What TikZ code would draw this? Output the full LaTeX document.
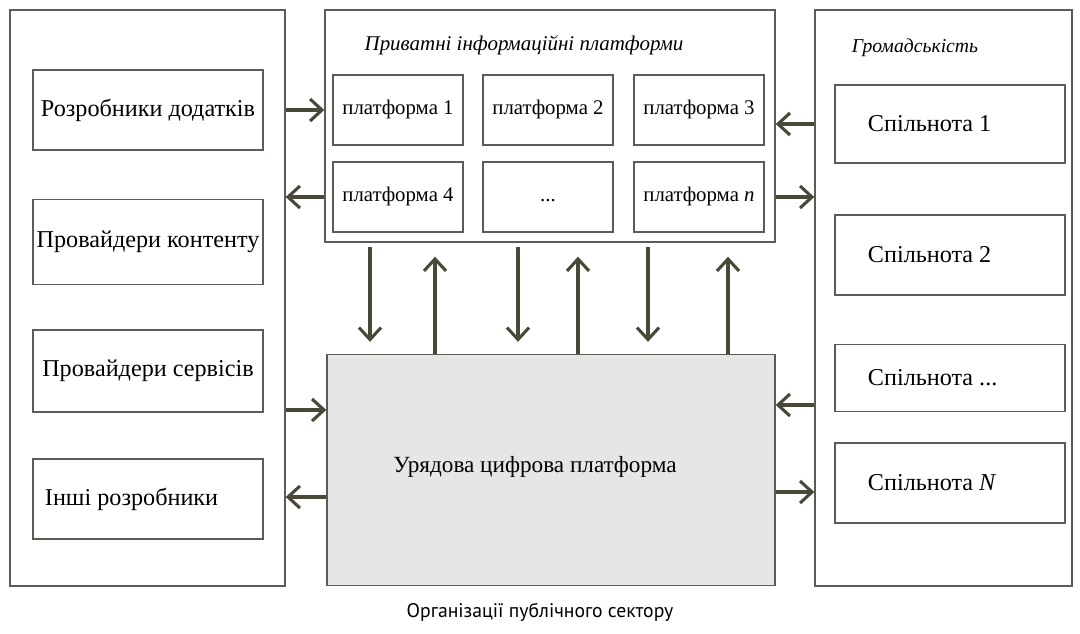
\documentclass[tikz,border=0pt]{standalone}
\usepackage{fontspec}
\setmainfont{Liberation Serif}
\newfontfamily\capfont{PT Sans}
\usetikzlibrary{arrows.meta}
\definecolor{boxline}{HTML}{5C5C54}
\definecolor{arrowcol}{HTML}{4A4838}
\definecolor{govfill}{HTML}{E6E6E6}
\begin{document}
\begin{tikzpicture}[x=0.025cm,y=-0.025cm,
  frame/.style={draw=boxline, line width=0.9pt, minimum width=#1},
  outer/.style={frame=#1, minimum height=14.4cm},
  actor/.style={frame=5.75cm, inner xsep=1pt, font=\fontsize{17.2}{20}\selectfont},
  group/.style={actor, text width=4.1cm, inner xsep=0.825cm, align=flush left},
  plat/.style={frame=3.25cm, minimum height=1.75cm, inner sep=2pt, text height=1.6ex, text depth=0.3ex, font=\fontsize{14.8}{17}\selectfont},
  arr/.style={draw=arrowcol, line width=2.2pt, -{Straight Barb[length=3mm,width=5.5mm,line width=2.2pt]}}]
\useasboundingbox (0,0) rectangle (1080,633);
% outer frames
\node[outer=6.875cm] (lft) at (147.5,298) {};
\node[outer=6.425cm] (rgt) at (943.5,298) {};
\node[frame=11.25cm, minimum height=5.8cm] (top) at (550,126) {};
\node[frame=11.2cm, minimum height=5.775cm, fill=govfill] (gov) at (551,470) {};
% left column
\node[actor, minimum height=2cm] (l1) at (148,110) {Розробники додатків};
\node[actor, minimum height=2.125cm] (l2) at (148,242) {Провайдери контенту};
\node[actor, minimum height=2.05cm] (l3) at (148,371) {Провайдери сервісів};
\node[actor, minimum height=2cm, text width=5.15cm, inner xsep=0.3cm, align=flush left] (l4) at (148,499) {Інші розробники};
% private platforms
\node[font=\itshape\fontsize{14.9}{17}\selectfont] (ttl) at (524,45) {Приватні інформаційні платформи};
\node[plat] (p1) at (398,110) {платформа 1};
\node[plat] (p2) at (548,110) {платформа 2};
\node[plat] (p3) at (699,110) {платформа 3};
\node[plat] (p4) at (398,197) {платформа 4};
\node[plat] (p5) at (548,197) {...};
\node[plat] (p6) at (699,197) {платформа \textit{n}};
% community
\node[font=\itshape\fontsize{14}{16}\selectfont] (ttr) at (915,48) {Громадськість};
\node[group, minimum height=1.95cm] (r1) at (950,124) {Спільнота 1};
\node[group, minimum height=2cm] (r2) at (950,255) {Спільнота 2};
\node[group, minimum height=1.675cm] (r3) at (950,378) {Спільнота ...};
\node[group, minimum height=2cm] (r4) at (950,483) {Спільнота \textit{N}};
% government
\node[font=\fontsize{16.5}{19}\selectfont] (govt) at (535,467) {Урядова цифрова платформа};
\node[font=\capfont\fontsize{14}{16}\selectfont] (cap) at (540,612) {Організації публічного сектору};
% horizontal arrows
\path[arr] (lft.east |- l1) -- (top.west |- l1);
\path[arr] (top.west |- p4) -- (lft.east |- p4);
\path[arr] (rgt.west |- r1) -- (top.east |- r1);
\path[arr] (top.east |- p6) -- (rgt.west |- p6);
\path[arr] ([yshift=1.5cm]lft.east |- gov) -- ([yshift=1.5cm]gov.west);
\path[arr] ([yshift=-0.675cm]gov.west) -- ([yshift=-0.675cm]lft.east |- gov);
\path[arr] ([yshift=1.625cm]rgt.west |- gov) -- ([yshift=1.625cm]gov.east);
\path[arr] ([yshift=-0.55cm]gov.east) -- ([yshift=-0.55cm]rgt.west |- gov);
% vertical arrows
\path[arr, shorten <=0.1cm, shorten >=0.3cm] (top.south -| 370,0) -- (gov.north -| 370,0);
\path[arr, shorten >=0.35cm] (gov.north -| 435,0) -- (top.south -| 435,0);
\path[arr, shorten <=0.1cm, shorten >=0.3cm] (top.south -| 518,0) -- (gov.north -| 518,0);
\path[arr, shorten >=0.35cm] (gov.north -| 578,0) -- (top.south -| 578,0);
\path[arr, shorten <=0.1cm, shorten >=0.3cm] (top.south -| 648,0) -- (gov.north -| 648,0);
\path[arr, shorten >=0.35cm] (gov.north -| 728,0) -- (top.south -| 728,0);
\end{tikzpicture}
\end{document}
